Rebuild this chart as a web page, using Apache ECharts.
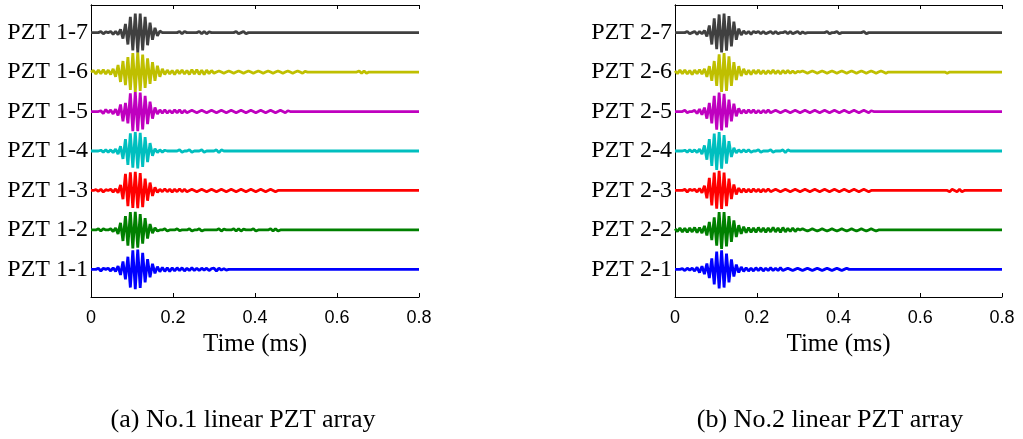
<!DOCTYPE html>
<html>
<head>
<meta charset="utf-8">
<script src="https://cdn.jsdelivr.net/npm/echarts@6/dist/echarts.min.js"></script>
<style>
  html, body { margin: 0; padding: 0; background: #fff; }
  #chart { width: 1023px; height: 439px; }
</style>
</head>
<body>
<div id="chart"></div>
<script>
// sampling step of the recorded signals (ms); amplitudes below are in % of channel spacing
const sampleStep = 0.006;
const timeTicks = [0, 0.2, 0.4, 0.6, 0.8];

const leftLabels = ['PZT 1-1', 'PZT 1-2', 'PZT 1-3', 'PZT 1-4', 'PZT 1-5', 'PZT 1-6', 'PZT 1-7'];
const rightLabels = ['PZT 2-1', 'PZT 2-2', 'PZT 2-3', 'PZT 2-4', 'PZT 2-5', 'PZT 2-6', 'PZT 2-7'];
const channelColors = ['#0000ff', '#008000', '#ff0000', '#00bfbf', '#bf00bf', '#bfbf00', '#404040'];

// No.1 array
const pzt1_1 = [0,0,0,3,-4,3,0,3,-4,4,-5,
  8,-14,20,-25,32,-46,48,-50,50,-47,42,-33,26,-20,14,-10,7,-6,
  5,-5,4,-5,4,-4,4,-3,4,-4,3,-3,4,-3,3,-3,3,-2,3,-3,2,3,-4,3,-2,2,-2,0];
const pzt1_2 = [0,0,0,3,-3,3,0,0,3,-4,5,
  -10,18,-28,35,-40,45,-47,46,-45,40,-35,30,-22,15,-8,5,-3,0,
  0,3,-3,0,0,0,3,-2,0,0,0,3,-3,0,0,3,-3,0,0,0,0,0,0,3,-3,2,0,0,0,3,-3,3,-3,2,0,0,0,3,-3,0,0,0,0,0,3,-3,3,-3,0];
const pzt1_3 = [0,0,2,-2,3,-4,2,0,3,-4,4,
  -6,14,-22,42,-40,46,-44,47,-45,44,-42,30,-26,20,-14,8,-5,3,
  -3,4,-3,3,-4,3,-3,4,-3,3,-3,
  0,3,0,-3,0,3,0,-3,0,3,0,-3,0,3,0,-3,0,3,0,-3,0,3,0,-3,0,3,0,-3,0,3,0,-3,0,3,0,-3,0,0];
const pzt1_4 = [0,0,0,0,2,-3,3,-3,3,-4,5,
  -8,12,-20,30,-35,45,-42,48,-44,46,-40,35,-28,20,-12,6,-4,3,
  -3,2,0,0,0,0,0,3,-3,0,0,3,-3,0,0,0,3,-3,0,0,0,0,3,-4,3,0];
const pzt1_5 = [0,0,0,0,2,-5,5,-3,4,-6,6,
  -10,18,-25,22,-30,46,-50,50,-50,48,-45,40,-32,25,-18,10,-6,4,
  -4,4,-4,3,-4,4,-3,4,-4,3,-3,
  0,3,0,-3,0,3,0,-3,0,3,0,-3,0,3,0,-3,0,3,0,-3,0,3,0,-3,0,3,0,-3,0,3,0,-3,0,3,0,-3,0,3,0,-3,2,0];
const pzt1_6 = [0,4,-5,5,-4,6,-5,5,-6,8,-12,
  18,-25,28,-33,38,-45,48,-50,50,-48,44,-40,35,-30,25,-22,16,-12,
  8,-6,5,-5,4,-6,5,-4,5,-5,4,
  -6,6,-5,6,-6,5,-6,5,-4,4,-3,
  0,3,0,-3,0,3,0,-3,0,3,0,-3,0,3,0,-3,0,3,0,-3,0,3,0,-3,0,3,0,-3,0,3,0,-3,0,3,0,-3,2,0];
const pzt1_6Late = [[0.648, 0], [0.654, 3], [0.66, -3], [0.666, 3], [0.672, -3], [0.678, 0]];
const pzt1_7 = [0,0,0,0,3,-3,2,0,3,-4,3,
  -5,8,-15,22,-30,40,-45,48,-50,48,-45,40,-32,25,-18,12,-8,4,
  0,0,0,0,0,0,0,3,-3,3,0,0,0,0,0,3,-3,3,-3,2,0,
  0,0,0,0,0,0,0,0,0,3,-3,0,3,-3,0];

// No.2 array
const pzt2_1 = [0,0,0,2,-3,3,-2,3,-4,5,-8,8,-12,
  15,-22,28,-38,45,-48,48,-46,40,-33,25,-18,12,-8,6,-5,
  4,-4,3,-4,4,-3,4,-4,3,-3,4,-3,3,-3,4,-3,
  0,3,0,-3,0,3,0,-3,0,3,0,-3,0,3,0,-3,0,3,0,-3,0,3,0,-3,0,3,0];
const pzt2_2 = [3,-4,5,-5,4,-6,5,-5,6,-7,6,-8,10,
  -14,20,-26,32,-40,45,-48,45,-42,35,-30,24,-18,12,-10,8,
  -7,6,-6,5,-6,6,-5,5,-6,5,-5,6,-5,5,-6,6,-5,4,-4,5,-4,3,
  0,3,0,-3,0,3,0,-3,0,3,0,-3,0,3,0,-3,0,3,0,-3,0,3,0,-3,0,3,0,-3,0,3,0,-3,0];
const pzt2_3 = [0,0,0,0,3,-4,3,0,3,-4,5,-6,
  12,-20,32,-38,45,-46,50,-47,45,-40,30,-22,15,-10,6,-5,4,
  -4,3,-4,4,-3,3,-4,3,-3,4,-3,
  0,3,0,-3,0,3,0,-3,0,3,0,-3,0,3,0,-3,0,3,0,-3,0,3,0,-3,0,3,0,-3,0,3,0,-3,0,3,0,-3,0,3,0,-3,0];
const pzt2_3Late = [[0.666, 0], [0.672, -3], [0.678, 3], [0.684, 0], [0.69, -3], [0.696, 3], [0.702, -3], [0.708, 0]];
const pzt2_4 = [0,0,0,0,2,-3,3,-2,3,-4,
  5,-8,14,-22,30,-38,44,-48,48,-45,40,-32,25,-15,8,-5,3,-3,3,
  -2,3,-3,0,0,3,-3,0,0,0,3,-3,0,0,0,3,-4,3,0,0];
const pzt2_5 = [0,0,0,0,3,-3,0,0,3,-5,6,-8,
  10,-18,22,-30,40,-46,48,-48,45,-40,30,-25,20,-12,8,-5,4,
  -4,4,-3,4,-4,3,-4,3,-3,4,-3,
  0,3,0,-3,0,3,0,-3,0,3,0,-3,0,3,0,-3,0,3,0,-3,0,3,0,-3,0,3,0,-3,0,3,0,-3,0,3,0,-3,0,3,0,-3,2,0];
const pzt2_6 = [3,-4,5,-4,5,-5,4,-6,5,-4,6,-5,8,
  -12,15,-22,28,-35,45,-50,48,-48,40,-35,25,-20,15,-10,8,
  -6,5,-6,5,-4,5,-5,4,-5,4,-4,5,-4,4,-5,4,-3,4,-3,3,-3,2,
  0,3,0,-3,0,3,0,-3,0,3,0,-3,0,3,0,-3,0,3,0,-3,0,3,0,-3,0,3,0,-3,0,3,0,-3,0,3,0,-3,0];
const pzt2_6Late = [[0.66, 0], [0.666, -3], [0.672, 0]];
const pzt2_7 = [0,0,0,0,0,3,-3,0,3,-4,3,-3,5,
  -10,18,-30,36,-42,46,-50,48,-46,42,-35,28,-18,10,-6,4,
  -3,3,-4,3,0,3,-3,3,-3,0,3,-3,3,-3,0,0,3,-3,3,-3,0,3,-3,2,-2,0,0,
  0,0,0,0,0,0,3,-3,0,0,3,-3,0,0,0,0,0,0,0,0,0,3,-3,0];

const leftWaves = [pzt1_1, pzt1_2, pzt1_3, pzt1_4, pzt1_5, pzt1_6, pzt1_7];
const leftLate = [[], [], [], [], [], pzt1_6Late, []];
const rightWaves = [pzt2_1, pzt2_2, pzt2_3, pzt2_4, pzt2_5, pzt2_6, pzt2_7];
const rightLate = [[], [], pzt2_3Late, [], [], pzt2_6Late, []];

const captions = ['(a) No.1 linear PZT array', '(b) No.2 linear PZT array'];

const serif = "'Times New Roman', 'Liberation Serif', serif";
const sans = "Arial, 'Liberation Sans', sans-serif";

function buildSeries(waves, late, labels, axisIdx) {
  return waves.map((wave, k) => {
    const offset = k + 1;
    let data = wave.map((a, i) => [i * sampleStep, offset + a / 100]);
    late[k].forEach(p => data.push([p[0], offset + p[1] / 100]));
    data.push([0.8, offset]);
    return {
      name: labels[k],
      type: 'line',
      xAxisIndex: axisIdx,
      yAxisIndex: axisIdx,
      data: data,
      showSymbol: false,
      silent: true,
      lineStyle: { color: channelColors[k], width: 2.8 },
      animation: false
    };
  });
}

function bottomAxis(grid) {
  return {
    type: 'value', gridIndex: grid, position: 'bottom',
    min: 0, max: 0.8, interval: 0.2,
    name: 'Time (ms)', nameLocation: 'middle', nameGap: 33,
    nameTextStyle: { fontFamily: serif, fontSize: 25, color: '#000' },
    axisLine: { show: true, lineStyle: { color: '#000', width: 1 } },
    axisTick: { show: true, inside: true, length: 4, lineStyle: { color: '#000' } },
    axisLabel: { fontFamily: sans, fontSize: 18, color: '#000', margin: 12,
      showMinLabel: true, showMaxLabel: true, formatter: v => String(+v.toFixed(1)) },
    splitLine: { show: false }
  };
}
function topAxis(grid) {
  return {
    type: 'value', gridIndex: grid, position: 'top',
    min: 0, max: 0.8, interval: 0.2,
    axisLine: { show: true, lineStyle: { color: '#000', width: 1 } },
    axisTick: { show: true, inside: true, length: 4, lineStyle: { color: '#000' } },
    axisLabel: { show: false }, splitLine: { show: false }
  };
}
function leftAxis(grid, labels) {
  return {
    type: 'value', gridIndex: grid, position: 'left',
    min: 0.3, max: 7.7,
    axisLine: { show: true, lineStyle: { color: '#000', width: 1 } },
    axisTick: { show: false },
    axisLabel: { fontFamily: serif, fontSize: 24, color: '#000', margin: 3,
      customValues: [1, 2, 3, 4, 5, 6, 7],
      formatter: v => labels[Math.round(v) - 1] },
    splitLine: { show: false }
  };
}
function rightAxis(grid) {
  return {
    type: 'value', gridIndex: grid, position: 'right',
    min: 0.3, max: 7.7,
    axisLine: { show: true, lineStyle: { color: '#000', width: 1 } },
    axisTick: { show: false }, axisLabel: { show: false }, splitLine: { show: false }
  };
}

const chart = echarts.init(document.getElementById('chart'), null, { renderer: 'canvas' });
chart.setOption({
  animation: false,
  backgroundColor: '#fff',
  grid: [
    { left: 91, top: 5, width: 328, height: 292 },
    { left: 675, top: 5, width: 327, height: 292 }
  ],
  xAxis: [bottomAxis(0), topAxis(0), bottomAxis(1), topAxis(1)],
  yAxis: [leftAxis(0, leftLabels), rightAxis(0), leftAxis(1, rightLabels), rightAxis(1)],
  series: buildSeries(leftWaves, leftLate, leftLabels, 0)
    .concat(buildSeries(rightWaves, rightLate, rightLabels, 2)),
  graphic: [
    { type: 'text', x: 243, y: 420, style: { text: captions[0],
      font: '26px ' + serif, fill: '#000', align: 'center', verticalAlign: 'middle' } },
    { type: 'text', x: 830, y: 420, style: { text: captions[1],
      font: '26px ' + serif, fill: '#000', align: 'center', verticalAlign: 'middle' } }
  ]
});
</script>
</body>
</html>
